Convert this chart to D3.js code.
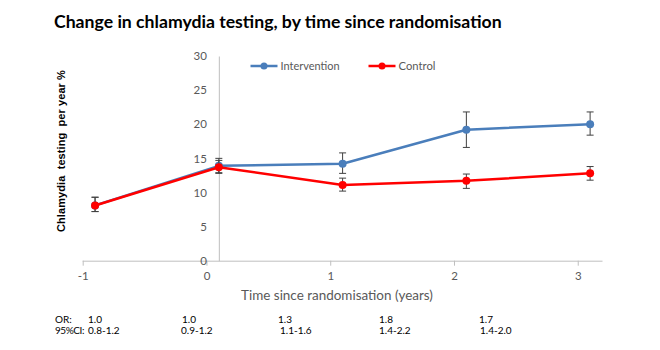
<!DOCTYPE html>
<html><head><meta charset="utf-8">
<script src="https://cdn.jsdelivr.net/npm/d3@7/dist/d3.min.js"></script>
<style>
html,body{margin:0;padding:0;background:#fff;}
svg{display:block;}
</style></head>
<body>
<svg id="chart" width="660" height="350"></svg>
<script>
// ---- data ----
const xValues = [-0.9, 0.1, 1.1, 2.1, 3.1];
const intervention = [8.1, 13.9, 14.2, 19.2, 20.0];
const interventionLow = [7.2, 12.9, 12.8, 16.6, 18.4];
const interventionHigh = [9.3, 15.0, 15.8, 21.8, 21.8];
const control = [8.1, 13.7, 11.1, 11.7, 12.8];
const controlLow = [7.2, 12.8, 10.2, 10.6, 11.8];
const controlHigh = [9.3, 14.7, 12.1, 12.7, 13.8];
const xTicks = [-1, 0, 1, 2, 3];
const yTicks = [0, 5, 10, 15, 20, 25, 30];
const seriesNames = ["Intervention", "Control"];
const orValues = ["1.0", "1.0", "1.3", "1.8", "1.7"];
const ciValues = ["0.8-1.2", "0.9-1.2", "1.1-1.6", "1.4-2.2", "1.4-2.0"];
const titleText = "Change in chlamydia testing, by time since randomisation";
const yTitle = "Chlamydia  testing  per year %";
const xTitle = "Time since randomisation (years)";

// ---- layout ----
const orX = [88, 182, 278, 379, 479];
const ciX = [88, 181, 280, 379, 480];
const colors = ["#4a7ebb", "#ff0000"];

const svg = d3.select("#chart");
const x = d3.scaleLinear().domain([-1, 3.2]).range([82.7, 602.5]);
const y = d3.scaleLinear().domain([0, 30]).range([260.7, 56]);
const yAxisX = x(0.1);
const font = "Lato, 'Open Sans', sans-serif";

function fit(sel, w) {
  const n = sel.node();
  const fs = parseFloat(sel.attr("font-size"));
  const len = n.getComputedTextLength();
  sel.attr("font-size", (fs * w / len).toFixed(2));
}
function spaceFit(sel, w) {
  const n = sel.node();
  const len = n.getComputedTextLength();
  const chars = sel.text().length;
  sel.attr("letter-spacing", ((w - len) / chars).toFixed(2));
}

// title
const t = svg.append("text").attr("x", 54).attr("y", 27.5)
  .attr("font-family", font).attr("font-weight", "bold").attr("font-size", 18)
  .attr("fill", "#000").text(titleText);
fit(t, 448);

// x axis
const xAxis = svg.append("g").attr("transform", `translate(0,${y(0)})`)
  .call(d3.axisBottom(x).tickValues(xTicks).tickSize(5).tickPadding(6).tickFormat(d => String(d)));
xAxis.select(".domain").attr("stroke", "#bfbfbf").attr("d", `M${x(-1)},0.5H${x(3.2)}`);
xAxis.selectAll(".tick line").attr("stroke", "#bfbfbf");
xAxis.selectAll(".tick text").attr("font-family", font).attr("font-size", 11.5).attr("fill", "#595959");

// y axis
const yAxis = svg.append("g").attr("transform", `translate(${yAxisX},0)`)
  .call(d3.axisLeft(y).tickValues(yTicks).tickSize(0).tickPadding(12));
yAxis.select(".domain").attr("stroke", "#bfbfbf");
yAxis.selectAll(".tick text").attr("font-family", font).attr("font-size", 11.5).attr("fill", "#595959");

// axis titles
const xt = svg.append("text").attr("x", 337).attr("y", 300).attr("text-anchor", "middle")
  .attr("font-family", font).attr("font-size", 12).attr("fill", "#595959").text(xTitle);
fit(xt, 192);
const yt = svg.append("text").attr("transform", "translate(64.5,151) rotate(-90)")
  .attr("text-anchor", "middle").attr("font-family", "'Liberation Sans', Arial, sans-serif")
  .attr("font-weight", "bold").attr("font-size", 11).attr("fill", "#000")
  .style("white-space", "pre").attr("xml:space", "preserve").text(yTitle);
spaceFit(yt, 162);

// series
const series = [
  {name: seriesNames[0], vals: intervention, lo: interventionLow, hi: interventionHigh, color: colors[0]},
  {name: seriesNames[1], vals: control, lo: controlLow, hi: controlHigh, color: colors[1]}
];
const line = d3.line().x(d => x(d[0])).y(d => y(d[1]));
series.forEach(s => {
  const pts = xValues.map((xv, i) => [xv, s.vals[i], s.lo[i], s.hi[i]]);
  const g = svg.append("g");
  g.append("path").datum(pts).attr("d", line).attr("fill", "none")
    .attr("stroke", s.color).attr("stroke-width", 2.5).attr("stroke-linejoin", "round");
  const eb = g.selectAll(".eb").data(pts).enter().append("g").attr("stroke", "#404040").attr("stroke-width", 1);
  eb.append("line").attr("x1", d => x(d[0])).attr("x2", d => x(d[0])).attr("y1", d => y(d[2])).attr("y2", d => y(d[3]));
  eb.append("line").attr("x1", d => x(d[0]) - 3.5).attr("x2", d => x(d[0]) + 3.5).attr("y1", d => y(d[2])).attr("y2", d => y(d[2]));
  eb.append("line").attr("x1", d => x(d[0]) - 3.5).attr("x2", d => x(d[0]) + 3.5).attr("y1", d => y(d[3])).attr("y2", d => y(d[3]));
  g.selectAll("circle").data(pts).enter().append("circle")
    .attr("cx", d => x(d[0])).attr("cy", d => y(d[1])).attr("r", 4).attr("fill", s.color);
});

// legend
const legX = [250.5, 368.5];
series.forEach((s, i) => {
  const g = svg.append("g").attr("transform", `translate(${legX[i]},66)`);
  g.append("line").attr("x1", 0).attr("x2", 27).attr("y1", 0).attr("y2", 0).attr("stroke", s.color).attr("stroke-width", 2.5);
  g.append("circle").attr("cx", 13.5).attr("cy", 0).attr("r", 3.5).attr("fill", s.color);
  const tx = g.append("text").attr("x", 30).attr("y", 4).attr("font-family", font).attr("font-size", 11.5)
    .attr("fill", "#595959").text(s.name);
  if (i === 0) fit(tx, 59);
  else fit(tx, 37);
});

// OR / CI annotations
const ann = svg.append("g").attr("font-family", font).attr("font-size", 10).attr("fill", "#000");
ann.append("text").attr("x", 55).attr("y", 322.5).text("OR:");
const ciLab = ann.append("text").attr("x", 55).attr("y", 334).text("95%CI:");
spaceFit(ciLab, 29);
orValues.forEach((v, i) => ann.append("text").attr("x", orX[i]).attr("y", 322.5).text(v));
ciValues.forEach((v, i) => ann.append("text").attr("x", ciX[i]).attr("y", 334).text(v));
</script>
</body></html>
